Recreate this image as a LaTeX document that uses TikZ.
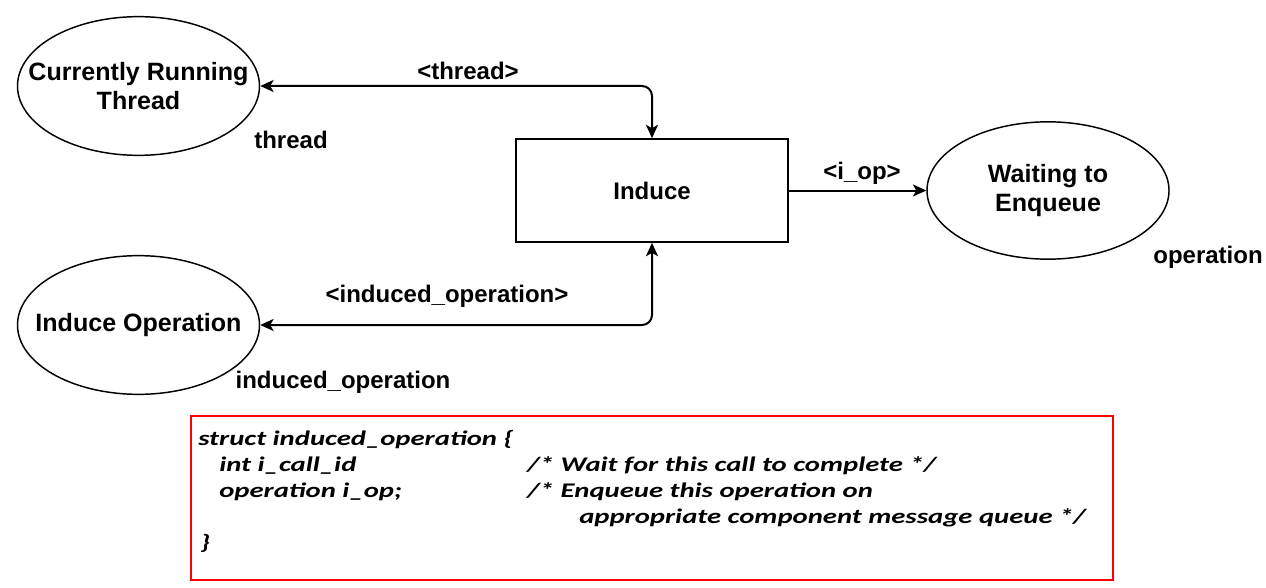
\documentclass[tikz,border=0pt]{standalone}
\usepackage{fontspec}
\setmainfont{Liberation Sans}
\newfontfamily\codefont[FakeStretch=1.38]{Carlito}
\usetikzlibrary{arrows.meta,shapes.geometric}
\begin{document}
\begin{tikzpicture}[x=0.75pt,y=-0.75pt,
  >={Stealth[length=10pt,width=9pt,inset=2.5pt]},
  lbl/.style={font=\fontsize{18}{21.75}\selectfont\bfseries, inner sep=0pt, align=center},
  ovaltxt/.style={lbl, font=\fontsize{18.8}{21.75}\selectfont\bfseries},
  oval/.style={ellipse, draw, line width=1.1pt, minimum width=181.5pt, minimum height=104pt, inner sep=0pt},
  procbox/.style={rectangle, draw, line width=1.5pt, minimum width=204pt, minimum height=77pt, inner sep=0pt, lbl},
  conn/.style={line width=1.5pt, rounded corners=7.5pt},
  codetxt/.style={font=\codefont\fontsize{15.6}{19.5}\selectfont\bfseries\itshape, anchor=base west, inner sep=0pt}
]
\useasboundingbox (0,0) rectangle (1266,588);

\node[oval, label={[ovaltxt]center:Currently Running\\Thread}] (cur) at (138.5,86) {};
\node[oval, label={[ovaltxt]center:Induce Operation}] (iop) at (138.5,325) {};
\node[oval, minimum height=103pt, label={[ovaltxt]center:Waiting to\\Enqueue}] (wait) at (1048,190.5) {};
\node[procbox] (induce) at (652,190.5) {Induce};

\draw[conn,<->] (cur.east) -| (induce.north);
\draw[conn,<->] (iop.east) -| (induce.south);
\draw[conn,->] (induce.east) -- (wait.west);

\node[lbl] (l1) at (468,71) {<thread>};
\node[lbl] (l2) at (291,140) {thread};
\node[lbl] (l3) at (862,173) {<i\_op>};
\node[lbl] (l4) at (1208,257) {operation};
\node[lbl] (l5) at (447,296) {<induced\_operation>};
\node[lbl] (l6) at (343,382) {induced\_operation};

\node[draw=red, line width=1.5pt, minimum width=691.5pt, minimum height=123pt, inner sep=0pt] (codebox) at (652,498) {};
\node[codetxt] (c1) at (198,445) {struct induced\_operation \{};
\node[codetxt] (c2) at (219,471) {int i\_call\_id};
\node[codetxt] (c3) at (527,471) {/* Wait for this call to complete */};
\node[codetxt] (c4) at (219,497) {operation i\_op;};
\node[codetxt] (c5) at (527,497) {/* Enqueue this operation on};
\node[codetxt] (c6) at (579,523) {appropriate component message queue */};
\node[codetxt] (c7) at (200,549) {\}};
\end{tikzpicture}
\end{document}
